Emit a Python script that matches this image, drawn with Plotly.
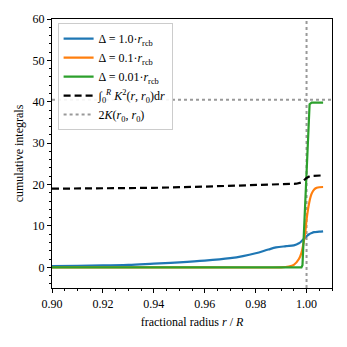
import plotly.graph_objects as go

# radius grids
r_blue = [0.900, 0.910, 0.920, 0.930, 0.940, 0.950, 0.960, 0.970, 0.975, 0.980, 0.985, 0.988, 0.992,
          0.995, 0.997, 0.998, 0.999, 1.000, 1.001, 1.002, 1.003, 1.005, 1.0065]
v_blue = [0.3, 0.38, 0.45, 0.6, 0.9, 1.2, 1.6, 2.2, 2.7, 3.4, 4.3, 4.8, 5.1,
          5.3, 5.8, 6.3, 6.9, 7.5, 8.0, 8.3, 8.5, 8.6, 8.7]

r_orange = [0.900, 0.950, 0.990, 0.993, 0.995, 0.997, 0.998, 0.999, 0.9995, 1.000, 1.001, 1.002,
            1.003, 1.004, 1.005, 1.0065]
v_orange = [0.0, 0.0, 0.0, 0.2, 0.6, 2.0, 3.5, 6.5, 8.5, 11.5, 15.5, 17.8, 18.8, 19.2, 19.35, 19.4]

r_green = [0.900, 0.950, 0.998, 0.9984, 1.000, 1.0008, 1.0012, 1.002, 1.0065]
v_green = [0.0, 0.0, 0.0, 0.5, 25.0, 37.0, 39.4, 39.8, 39.8]

r_int = [0.900, 0.920, 0.940, 0.960, 0.980, 0.990, 0.996, 0.998, 0.999, 1.000, 1.0013, 1.002, 1.0065]
v_int = [19.0, 19.1, 19.2, 19.5, 19.9, 20.1, 20.2, 20.5, 21.0, 21.6, 22.0, 22.1, 22.2]

two_k = 40.5
r0 = 1.0

labels = ["Δ = 1.0·<i>r</i><sub>rcb</sub>", "Δ = 0.1·<i>r</i><sub>rcb</sub>",
          "Δ = 0.01·<i>r</i><sub>rcb</sub>",
          "∫<sub>0</sub><sup><i>R</i></sup> <i>K</i><sup>2</sup>(<i>r</i>, <i>r</i><sub>0</sub>)d<i>r</i>",
          "2<i>K</i>(<i>r</i><sub>0</sub>, <i>r</i><sub>0</sub>)"]

x_range = [0.90, 1.01]
y_range = [-5, 60]

fig = go.Figure()
fig.add_trace(go.Scatter(x=[r0, r0], y=y_range, mode="lines", showlegend=False,
                         line=dict(color="#999999", width=2, dash="dot")))
fig.add_trace(go.Scatter(x=r_blue, y=v_blue, mode="lines", name=labels[0],
                         line=dict(color="#1f77b4", width=2.2, shape="spline")))
fig.add_trace(go.Scatter(x=r_orange, y=v_orange, mode="lines", name=labels[1],
                         line=dict(color="#ff7f0e", width=2.2, shape="spline", smoothing=0.6)))
fig.add_trace(go.Scatter(x=r_green, y=v_green, mode="lines", name=labels[2],
                         line=dict(color="#2ca02c", width=2.2)))
fig.add_trace(go.Scatter(x=r_int, y=v_int, mode="lines", name=labels[3],
                         line=dict(color="black", width=2.2, dash="7px,4px")))
fig.add_trace(go.Scatter(x=x_range, y=[two_k, two_k], mode="lines", name=labels[4],
                         line=dict(color="#999999", width=2, dash="dot")))

font = "Liberation Serif"
tfont = dict(family=font, size=12, color="black")
fig.update_layout(
    width=347, height=347,
    margin=dict(l=44, r=23, t=11, b=67, autoexpand=False),
    paper_bgcolor="white", plot_bgcolor="white",
    font=dict(family=font, size=12, color="black"),
    showlegend=True,
    legend=dict(x=0.02, y=0.985, xanchor="left", yanchor="top",
                bgcolor="rgba(255,255,255,0.9)", bordercolor="#cccccc", borderwidth=1,
                font=dict(family=font, size=12), tracegroupgap=0, itemwidth=30),
)
fig.update_xaxes(range=x_range, showgrid=False, zeroline=False, automargin=False,
                 showline=True, linecolor="black", linewidth=1.2, mirror=True,
                 ticks="outside", ticklen=4, tickwidth=1, tickcolor="black",
                 tick0=0.90, dtick=0.02, tickformat=".2f", tickfont=tfont,
                 minor=dict(dtick=0.005, ticks="outside", ticklen=2, tickcolor="black"),
                 title=dict(text="fractional radius <i>r</i> / <i>R</i>", standoff=8,
                            font=dict(family=font, size=12)))
fig.update_yaxes(range=y_range, showgrid=False, zeroline=False, automargin=False,
                 showline=True, linecolor="black", linewidth=1.2, mirror=True,
                 ticks="outside", ticklen=4, tickwidth=1, tickcolor="black",
                 tick0=0, dtick=10, tickfont=tfont,
                 minor=dict(dtick=2, ticks="outside", ticklen=2, tickcolor="black"),
                 title=dict(text="cumulative integrals", standoff=6,
                            font=dict(family=font, size=12)))

fig.write_html("out.html")
